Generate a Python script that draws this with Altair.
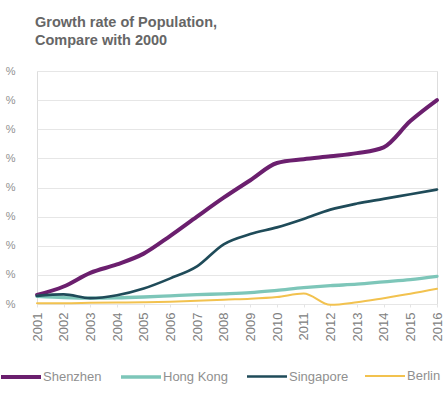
import altair as alt
import pandas as pd

years = list(range(2001, 2017))
cities = ["Shenzhen", "Hong Kong", "Singapore", "Berlin"]
shenzhen = [3.1, 6.0, 10.7, 13.6, 17.3, 23.4, 30.0, 36.5, 42.5, 48.4, 49.7, 50.7, 51.8, 53.8, 62.8, 70.0]
hongkong = [2.6, 2.2, 2.0, 2.1, 2.4, 2.8, 3.2, 3.5, 3.9, 4.7, 5.6, 6.3, 6.8, 7.6, 8.4, 9.5]
singapore = [2.8, 3.3, 2.0, 3.0, 5.3, 8.8, 12.9, 20.5, 24.0, 26.3, 29.2, 32.4, 34.5, 36.1, 37.7, 39.3]
berlin = [0.3, 0.3, 0.4, 0.5, 0.6, 0.8, 1.1, 1.5, 1.8, 2.4, 3.6, -0.3, 0.6, 2.0, 3.5, 5.2]
y_ticks = [0, 10, 20, 30, 40, 50, 60, 70, 80]

colors = ["#6B1F6E", "#7DC6B9", "#1F4B59", "#F2C24F"]
widths = [4, 2, 2.5, 2.5]

rows = []
for city, vals in zip(cities, [shenzhen, hongkong, singapore, berlin]):
    for yr, v in zip(years, vals):
        rows.append({"year": yr, "city": city, "growth": v})
df = pd.DataFrame(rows)

chart = alt.Chart(df).mark_line(interpolate="monotone", strokeCap="round").encode(
    x=alt.X(
        "year:Q",
        title=None,
        scale=alt.Scale(domain=[2001, 2016], nice=False, zero=False),
        axis=alt.Axis(
            values=years, format="d", labelAngle=-90, labelAlign="right", labelBaseline="middle",
            labelFontSize=13, labelColor="#808080", labelFont="Liberation Sans",
            labelPadding=5, domain=False, ticks=True, tickColor="#e4e4e4", tickSize=3,
            grid=False,
        ),
    ),
    y=alt.Y(
        "growth:Q",
        title=None,
        scale=alt.Scale(domain=[0, 80], nice=False, zero=False),
        axis=alt.Axis(
            values=y_ticks, labelExpr="'%'", labelFontSize=11, labelColor="#909090",
            labelFont="Liberation Sans", labelPadding=22, domain=False, ticks=False,
            grid=True, gridColor="#e6e6e6", gridWidth=1.2,
        ),
    ),
    color=alt.Color(
        "city:N",
        sort=cities,
        scale=alt.Scale(domain=cities, range=colors),
        legend=alt.Legend(
            title=None, orient="none", direction="horizontal", columns=4,
            legendX=-38, legendY=284, symbolType="stroke", symbolSize=1600,
            symbolStrokeWidth=3, labelFontSize=13, labelColor="#909090",
            labelFont="Liberation Sans", labelOffset=0, columnPadding=12,
            gridAlign="none", padding=0,
        ),
    ),
    strokeWidth=alt.StrokeWidth(
        "city:N", scale=alt.Scale(domain=cities, range=widths), legend=None
    ),
).properties(
    width=400,
    height=233,
    padding={"left": 37, "top": 71, "right": 8, "bottom": 92},
    autosize=alt.AutoSizeParams(type="none"),
    title=alt.TitleParams(
        text=["Growth rate of Population,", "Compare with 2000"],
        anchor="start", frame="group", fontSize=14.5, fontWeight="bold", color="#666666",
        font="Liberation Sans", lineHeight=18, offset=17, dx=-2,
    ),
).configure_view(stroke=None).configure(background="white")

chart.save("out.html", embed_options={"renderer": "svg", "actions": False})
